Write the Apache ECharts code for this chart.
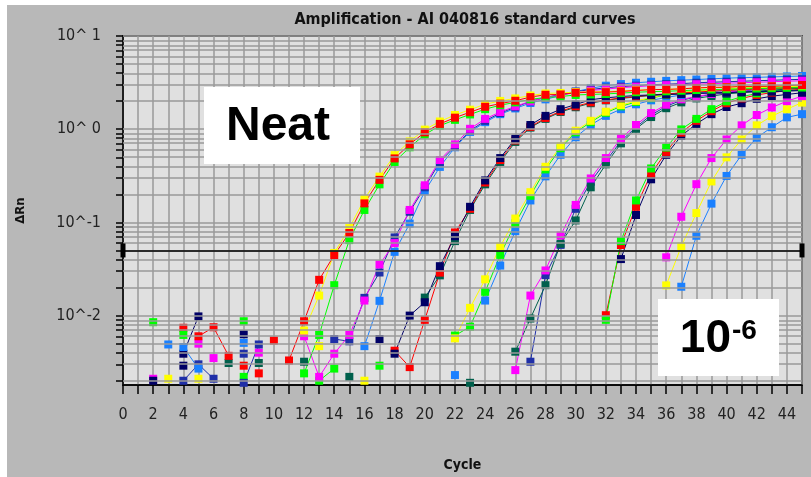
<!DOCTYPE html>
<html>
<head>
<meta charset="utf-8">
<title>Amplification - AI 040816 standard curves</title>
<style>
  html, body { margin: 0; padding: 0; background: #fff; }
  #main { width: 811px; height: 477px; }
</style>
</head>
<body>
<div id="main"></div>
<script src="https://cdn.jsdelivr.net/npm/echarts@6/dist/echarts.min.js"></script>
<script>
// cycle numbers on the x axis
var cycles = [1, 2, 3, 4, 5, 6, 7, 8, 9, 10, 11, 12, 13, 14, 15, 16, 17, 18, 19, 20,
  21, 22, 23, 24, 25, 26, 27, 28, 29, 30, 31, 32, 33, 34, 35, 36, 37, 38, 39, 40,
  41, 42, 43, 44, 45];

var threshold = 0.05;
var decadeLabels = [-2, -1, 0, 1];   // 10^-2 .. 10^1

// delta Rn per cycle (null = off scale / not plotted)
// Neat
var neatRed = [null, null, null, null, 0.0060, 0.0075, 0.0037, null, null, null,
  0.0033, 0.0087, 0.0242, 0.0447, 0.0769, 0.160, 0.286, 0.486, 0.688, 0.925,
  1.14, 1.33, 1.52, 1.74, 1.88, 2.02, 2.21, 2.34, 2.36, 2.46,
  2.49, 2.50, 2.54, 2.60, 2.66, 2.67, 2.71, 2.77, 2.81, 2.82,
  2.88, 2.88, 2.89, 2.93, 2.98];
var neatYellow = [null, null, 0.0021, null, null, null, null, null, null, null,
  null, 0.0069, 0.0164, 0.047, 0.087, 0.178, 0.31, 0.527, 0.74, 0.99,
  1.21, 1.42, 1.62, 1.85, 2.01, 2.14, 2.30, 2.42, 2.45, 2.50,
  2.52, 2.53, 2.57, 2.62, 2.66, 2.68, 2.72, 2.77, 2.80, 2.82,
  2.86, 2.88, 2.89, 2.92, 2.95];
var neatGreen = [null, null, null, 0.0062, null, null, null, null, null, null,
  null, 0.0024, 0.0062, 0.0212, 0.0646, 0.136, 0.256, 0.445, 0.64, 0.875,
  1.09, 1.26, 1.44, 1.64, 1.81, 1.94, 2.09, 2.19, 2.24, 2.33,
  2.36, 2.39, 2.44, 2.49, 2.53, 2.55, 2.59, 2.63, 2.66, 2.68,
  2.71, 2.73, 2.75, 2.78, 2.80];
// 10^-1
var d1Magenta = [null, null, null, null, null, null, null, null, null, null,
  null, 0.0060, 0.0022, 0.0039, 0.0062, 0.0145, 0.0354, 0.060, 0.136, 0.25,
  0.467, 0.688, 1.01, 1.29, 1.53, 1.76, 1.99, 2.19, 2.33, 2.47,
  2.60, 2.69, 2.79, 2.86, 2.93, 2.97, 3.00, 3.04, 3.08, 3.12,
  3.15, 3.19, 3.23, 3.27, 3.31];
var d1Blue = [null, null, null, null, null, null, null, 0.0019, 0.0049, null,
  null, null, null, 0.0056, 0.0053, 0.0155, 0.029, 0.069, 0.130, 0.238,
  0.445, 0.655, 0.964, 1.23, 1.49, 1.72, 1.99, 2.19, 2.36, 2.53,
  2.66, 2.79, 2.86, 2.93, 3.00, 3.04, 3.08, 3.15, 3.19, 3.23,
  3.27, 3.31, 3.35, 3.39, 3.43];
var d1LightBlue = [null, null, null, null, null, null, null, 0.0051, null, null,
  null, null, null, null, null, 0.0047, 0.0144, 0.0483, 0.097, 0.216,
  0.394, 0.64, 0.935, 1.19, 1.45, 1.67, 1.91, 2.09, 2.30, 2.53,
  2.75, 2.93, 3.05, 3.15, 3.23, 3.30, 3.36, 3.41, 3.47, 3.53,
  3.57, 3.60, 3.64, 3.68, 3.72];
// 10^-2
var d2Navy = [null, null, null, 0.0029, null, null, null, 0.0063, null, null,
  null, null, null, null, null, null, null, 0.0039, 0.0100, 0.0139,
  0.0339, 0.071, 0.147, 0.282, 0.49, 0.79, 1.11, 1.39, 1.64, 1.84,
  2.07, 2.17, 2.24, 2.30, 2.33, 2.36, 2.39, 2.42, 2.45, 2.47,
  2.50, 2.53, 2.53, 2.56, 2.60];
var d2Red = [null, null, null, 0.0074, null, null, null, null, 0.0024, null,
  null, null, null, null, null, null, null, 0.0042, 0.0028, 0.0090,
  0.0289, 0.078, 0.140, 0.268, 0.467, 0.757, 1.06, 1.32, 1.56, 1.76,
  1.94, 2.06, 2.17, 2.24, 2.33, 2.39, 2.45, 2.50, 2.56, 2.60,
  2.66, 2.69, 2.73, 2.76, 2.79];
var d2Teal = [null, null, null, null, null, null, 0.0031, null, 0.0031, null,
  null, 0.0032, null, null, null, null, null, null, null, 0.0156,
  0.027, 0.063, 0.136, 0.256, 0.445, 0.73, 1.04, 1.29, 1.53, 1.72,
  1.90, 2.04, 2.14, 2.22, 2.30, 2.36, 2.39, 2.42, 2.45, 2.47,
  2.50, 2.53, 2.56, 2.60, 2.63];
// 10^-3
var d3Yellow = [null, null, null, null, null, null, null, null, null, null,
  null, null, 0.0047, null, null, null, null, null, null, null,
  null, 0.0057, 0.0121, 0.0245, 0.0551, 0.110, 0.211, 0.395, 0.655, 0.964,
  1.23, 1.54, 1.81, 2.01, 2.19, 2.36, 2.47, 2.56, 2.63, 2.69,
  2.76, 2.79, 2.82, 2.86, 2.90];
var d3Green = [null, 0.0085, null, null, null, null, null, 0.0022, null, null,
  null, null, null, null, null, null, 0.0029, null, null, null,
  null, 0.0061, 0.0076, 0.0180, 0.0448, 0.0976, 0.193, 0.370, 0.624, 0.926,
  1.19, 1.50, 1.76, 1.96, 2.15, 2.34, 2.47, 2.56, 2.63, 2.69,
  2.76, 2.79, 2.82, 2.86, 2.90];
var d3LightBlue = [null, null, null, 0.0046, 0.0027, null, null, null, null, null,
  null, null, null, null, null, null, null, null, null, null,
  null, 0.0023, null, 0.0145, 0.0344, 0.0805, 0.172, 0.312, 0.531, 0.82,
  1.11, 1.39, 1.64, 1.85, 2.04, 2.19, 2.33, 2.45, 2.53, 2.60,
  2.66, 2.73, 2.76, 2.79, 2.82];
// 10^-4
var d4Magenta = [null, null, null, null, 0.0050, null, null, null, 0.0040, null,
  null, null, null, null, null, null, null, null, null, null,
  null, null, null, null, null, 0.0026, 0.0164, 0.0305, 0.0723, 0.154,
  0.296, 0.49, 0.795, 1.11, 1.49, 1.83, 2.09, 2.24, 2.39, 2.50,
  2.60, 2.69, 2.76, 2.82, 2.90];
var d4Teal = [null, null, null, null, null, null, null, null, null, null,
  null, null, null, null, 0.0022, null, null, null, null, null,
  null, null, 0.0019, null, null, 0.0041, 0.0093, 0.0212, 0.059, 0.105,
  0.238, 0.42, 0.705, 1.01, 1.35, 1.68, 1.94, 2.14, 2.27, 2.39,
  2.47, 2.56, 2.63, 2.69, 2.76];
var d4Blue = [null, null, null, 0.0020, 0.0030, 0.0021, null, 0.0039, null, null,
  null, null, null, null, null, null, null, null, null, null,
  null, null, null, null, null, null, 0.0032, 0.0272, 0.0574, 0.140,
  0.273, 0.453, 0.745, 1.05, 1.42, 1.76, 2.04, 2.22, 2.36, 2.47,
  2.56, 2.66, 2.73, 2.79, 2.86];
// 10^-5
var d5Green = [null, null, null, null, null, null, null, 0.0087, null, null,
  null, null, 0.0020, 0.0027, null, null, null, null, null, null,
  null, null, null, null, null, null, null, null, null, null,
  null, 0.0090, 0.063, 0.172, 0.379, 0.635, 0.995, 1.29, 1.64, 1.99,
  2.23, 2.42, 2.56, 2.69, 2.79];
var d5Red = [null, null, null, null, null, null, null, 0.0029, null, 0.0054,
  null, null, null, null, null, null, null, null, null, null,
  null, null, null, null, null, null, null, null, null, null,
  null, 0.0101, 0.0572, 0.147, 0.333, 0.57, 0.918, 1.23, 1.56, 1.90,
  2.14, 2.33, 2.47, 2.60, 2.69];
var d5Navy = [null, 0.0020, null, 0.0039, 0.0098, null, null, null, null, null,
  null, null, null, null, null, null, 0.0056, null, null, null,
  null, null, null, null, null, null, null, null, null, null,
  null, null, 0.0404, 0.120, 0.290, 0.531, 0.848, 1.14, 1.45, 1.73,
  1.90, 2.12, 2.26, 2.36, 2.46];
// 10^-6
var d6Magenta = [null, 0.0021, null, null, null, 0.0035, null, null, null, null,
  null, null, null, null, null, null, null, null, null, null,
  null, null, null, null, null, null, null, null, null, null,
  null, null, null, null, null, 0.0422, 0.115, 0.257, 0.49, 0.776,
  1.10, 1.42, 1.71, 2.00, 2.26];
var d6Yellow = [null, null, null, null, 0.0021, null, null, null, null, null,
  null, null, null, null, null, 0.0020, null, null, null, null,
  null, null, null, null, null, null, null, null, null, null,
  null, null, null, null, null, 0.0211, 0.0551, 0.126, 0.275, 0.499,
  0.776, 1.10, 1.38, 1.64, 1.93];
var d6LightBlue = [null, null, 0.0049, null, null, null, null, null, null, null,
  null, null, null, null, null, null, null, null, null, null,
  null, null, null, null, null, null, null, null, null, null,
  null, null, null, null, null, null, 0.0204, 0.0718, 0.159, 0.315,
  0.531, 0.809, 1.05, 1.34, 1.45];

var RED = '#ff0000', YELLOW = '#ffff00', GREEN = '#00ff00', MAGENTA = '#ff00ff',
    NAVY = '#000066', BLUE = '#1f2fa8', LIGHTBLUE = '#1a80ff', TEAL = '#00604c';

// drawn bottom -> top
var runs = [
  ['10^-6 light blue', LIGHTBLUE, d6LightBlue],
  ['10^-6 yellow', YELLOW, d6Yellow],
  ['10^-6 magenta', MAGENTA, d6Magenta],
  ['10^-5 navy', NAVY, d5Navy],
  ['10^-5 red', RED, d5Red],
  ['10^-5 green', GREEN, d5Green],
  ['10^-4 blue', BLUE, d4Blue],
  ['10^-4 teal', TEAL, d4Teal],
  ['10^-4 magenta', MAGENTA, d4Magenta],
  ['10^-3 light blue', LIGHTBLUE, d3LightBlue],
  ['10^-3 green', GREEN, d3Green],
  ['10^-3 yellow', YELLOW, d3Yellow],
  ['10^-2 teal', TEAL, d2Teal],
  ['10^-2 red', RED, d2Red],
  ['10^-2 navy', NAVY, d2Navy],
  ['10^-1 light blue', LIGHTBLUE, d1LightBlue],
  ['10^-1 blue', BLUE, d1Blue],
  ['10^-1 magenta', MAGENTA, d1Magenta],
  ['Neat green', GREEN, neatGreen],
  ['Neat yellow', YELLOW, neatYellow],
  ['Neat red', RED, neatRed]
];

var yMin = Math.log10(0.0018);
var yMax = 1;

// log grid lines at 1..9 x 10^n
var gridLines = [];
[-3, -2, -1, 0].forEach(function (d) {
  for (var m = 1; m <= 9; m++) {
    var v = d + Math.log10(m);
    if (v >= yMin) gridLines.push(v);
  }
});
gridLines.push(1);

function toLog(arr) {
  return cycles.map(function (c, i) {
    var v = arr[i];
    return [c, v == null ? '-' : Math.log10(v)];
  });
}

var FONT = '"DejaVu Sans Condensed", "DejaVu Sans", sans-serif';
var BIG = '"Liberation Sans", Arial, sans-serif';
var GRID_COLOR = '#9a9a9a';

var series = [{
  // horizontal log grid
  type: 'line',
  data: [],
  silent: true,
  z: 1,
  markLine: {
    silent: true,
    animation: false,
    symbol: ['none', 'none'],
    label: { show: false },
    lineStyle: { color: GRID_COLOR, width: 1.5, type: 'solid' },
    data: gridLines.map(function (v) { return { yAxis: v }; })
  }
}];

runs.forEach(function (r) {
  series.push({
    name: r[0],
    type: 'line',
    data: toLog(r[2]),
    symbol: 'rect',
    symbolSize: 8,
    showAllSymbol: true,
    connectNulls: false,
    animation: false,
    z: 3,
    lineStyle: { color: r[1], width: 1 },
    itemStyle: { color: r[1] }
  });
});

// threshold line
series.push({
  type: 'line',
  data: [],
  silent: true,
  z: 4,
  markLine: {
    silent: true,
    animation: false,
    symbol: ['none', 'none'],
    label: { show: false },
    lineStyle: { color: '#000', width: 1.5, type: 'solid' },
    data: [{ yAxis: Math.log10(threshold) }]
  },
  markPoint: {
    silent: true,
    animation: false,
    symbol: 'rect',
    symbolSize: [5, 14],
    itemStyle: { color: '#000' },
    label: { show: false },
    data: [{ coord: [0, Math.log10(threshold)] }, { coord: [45, Math.log10(threshold)] }]
  }
});

var chart = echarts.init(document.getElementById('main'));
chart.setOption({
  backgroundColor: '#ffffff',
  animation: false,
  grid: {
    left: 123, right: 9, top: 36, bottom: 85,
    show: true,
    backgroundColor: '#e0e0e0',
    borderColor: '#000',
    borderWidth: 1.5
  },
  xAxis: {
    type: 'value',
    min: 0, max: 45, interval: 1,
    name: 'Cycle',
    nameLocation: 'middle',
    nameGap: 73,
    nameTextStyle: { fontFamily: FONT, fontWeight: 'bold', fontSize: 14, color: '#111' },
    axisLine: { show: true, onZero: false, lineStyle: { color: '#000', width: 1.5 } },
    axisTick: { show: true, length: 9, lineStyle: { color: '#000', width: 1.5 } },
    axisLabel: {
      margin: 22,
      fontFamily: FONT, fontSize: 16, color: '#222',
      formatter: function (v) { return v % 2 === 0 ? String(v) : ''; }
    },
    splitLine: { show: true, lineStyle: { color: GRID_COLOR, width: 1.5 } }
  },
  yAxis: {
    type: 'value',
    min: yMin, max: yMax,
    name: '\u0394Rn',
    nameLocation: 'middle',
    nameRotate: 90,
    nameGap: 96,
    nameTextStyle: { fontFamily: FONT, fontWeight: 'bold', fontSize: 13, color: '#111' },
    axisLine: { show: true, lineStyle: { color: '#000', width: 1.5 } },
    axisTick: { show: true, customValues: gridLines, length: 7, lineStyle: { color: '#000', width: 1.5 } },
    axisLabel: {
      customValues: decadeLabels,
      margin: 22,
      fontFamily: FONT, fontSize: 16, color: '#222',
      formatter: function (v) {
        var n = Math.round(v);
        return '10^' + (n >= 0 ? ' ' + n : '-' + Math.abs(n));
      }
    },
    splitLine: { show: false }
  },
  graphic: [
    { type: 'rect', z: -100, shape: { x: 7, y: 5, width: 804, height: 472 }, style: { fill: '#b8b8b8' } },
    { type: 'text', z: 10, x: 465, y: 20,
      style: { text: 'Amplification - AI 040816 standard curves', fontFamily: FONT, fontWeight: 'bold',
               fontSize: 16, fill: '#111', align: 'center', verticalAlign: 'middle' } },
    { type: 'rect', z: 50, shape: { x: 204, y: 87, width: 156, height: 77 }, style: { fill: '#ffffff' } },
    { type: 'text', z: 51, x: 278, y: 127,
      style: { text: 'Neat', fontFamily: BIG, fontWeight: 'bold',
               fontSize: 48, fill: '#000', align: 'center', verticalAlign: 'middle' } },
    { type: 'rect', z: 50, shape: { x: 658, y: 299, width: 121, height: 77 }, style: { fill: '#ffffff' } },
    { type: 'text', z: 51, x: 731, y: 339,
      style: { text: '10', fontFamily: BIG, fontWeight: 'bold',
               fontSize: 46, fill: '#000', align: 'right', verticalAlign: 'middle' } },
    { type: 'text', z: 51, x: 732, y: 331,
      style: { text: '-6', fontFamily: BIG, fontWeight: 'bold',
               fontSize: 28, fill: '#000', align: 'left', verticalAlign: 'middle' } }
  ],
  series: series
});
</script>
</body>
</html>
